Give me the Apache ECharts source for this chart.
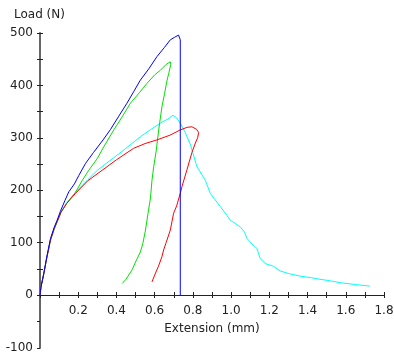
<!DOCTYPE html>
<html style="height: 100%">
<head>
    <meta charset="utf-8">
</head>
<body style="height: 100%; margin: 0">
<div id="container" style="width: 394px; height: 359px"></div>
<script type="text/javascript" src="https://cdn.jsdelivr.net/npm/echarts@6/dist/echarts.min.js"></script>
<script type="text/javascript">
    // extension (mm), load (N)
    var blueData = [[0,0],[0.005,15],[0.02,41],[0.035,72],[0.055,108],[0.075,130],[0.09,143],[0.107,160],
        [0.13,180],[0.151,197],[0.18,212],[0.203,228],[0.238,251],[0.28,272],[0.33,296],[0.369,316],
        [0.41,340],[0.455,366],[0.49,388],[0.525,410],[0.57,432],[0.612,455],[0.65,472],[0.682,487],
        [0.705,492],[0.725,496],[0.734,487],[0.734,0]];
    var greenData = [[0,0],[0.005,15],[0.02,41],[0.035,70],[0.055,105],[0.075,127],[0.09,140],[0.11,158],
        [0.14,175],[0.186,196],[0.22,218],[0.255,238],[0.299,260],[0.334,283],[0.386,315],[0.43,340],
        [0.473,366],[0.52,386],[0.56,404],[0.6,420],[0.63,429],[0.66,440],[0.682,445],[0.684,440],
        [0.675,425],[0.665,410],[0.652,385],[0.638,359],[0.621,315],[0.608,275],[0.595,245],[0.586,219],
        [0.578,185],[0.565,155],[0.551,122],[0.538,98],[0.525,82],[0.5,63],[0.482,48],[0.45,30],[0.43,22]];
    var redData = [[0,0],[0.005,15],[0.02,41],[0.035,70],[0.055,105],[0.075,127],[0.09,140],[0.11,158],
        [0.14,175],[0.186,194],[0.25,218],[0.325,238],[0.4,258],[0.49,280],[0.55,289],[0.612,296],
        [0.68,305],[0.734,315],[0.77,320],[0.795,321],[0.82,316],[0.83,310],[0.825,300],[0.813,290],
        [0.795,272],[0.769,239],[0.743,207],[0.734,194],[0.715,170],[0.699,156],[0.682,124],[0.66,100],
        [0.647,86],[0.638,73],[0.62,55],[0.6,38],[0.586,25]];
    var cyanData = [[0,0],[0.005,15],[0.02,41],[0.035,70],[0.055,105],[0.075,127],[0.09,140],[0.11,158],
        [0.14,176],[0.186,196],[0.25,220],[0.3,238],[0.386,262],[0.45,280],[0.525,302],[0.58,316],
        [0.63,328],[0.67,336],[0.696,343],[0.715,338],[0.734,328],[0.76,310],[0.786,288],[0.821,245],
        [0.865,219],[0.891,194],[0.943,169],[0.978,152],[0.995,143],[1.048,130],[1.07,120],[1.083,108],
        [1.11,97],[1.135,89],[1.152,70],[1.178,60],[1.221,55],[1.256,46],[1.3,41],[1.361,36],[1.42,33],
        [1.465,30],[1.52,27],[1.57,23.5],[1.65,20],[1.726,17]];

    var dom = document.getElementById("container");
    var myChart = echarts.init(dom);
    var font = 'DejaVu Sans';
    var ink = '#222';
    function tickStyle(inside) {
        return {inside: inside, length: 3, lineStyle: {color: ink}};
    }
    var option = {
        animation: false,
        backgroundColor: '#fff',
        textStyle: {fontFamily: font},
        // upper grid: 0..500, lower grid: the -100..0 stub of the load axis
        grid: [
            {left: 40, right: 10, top: 33, bottom: 64, outerBoundsMode: 'none'},
            {left: 40, right: 10, top: 295, bottom: 11, outerBoundsMode: 'none'}
        ],
        xAxis: [{
            gridIndex: 0, type: 'value', min: 0, max: 1.8, interval: 0.2,
            name: 'Extension (mm)', nameLocation: 'middle', nameGap: 28,
            nameTextStyle: {color: ink, fontSize: 12, fontFamily: font},
            axisLine: {onZero: false, lineStyle: {color: ink, width: 1}},
            axisTick: tickStyle(false),
            minorTick: {show: true, splitNumber: 2, length: 3, lineStyle: {color: ink}},
            axisLabel: {color: ink, fontSize: 12, margin: 10, showMaxLabel: true,
                formatter: function (v) { return v === 0 ? '' : v.toFixed(1); }},
            splitLine: {show: false}
        }, {
            gridIndex: 0, type: 'value', min: 0, max: 1.8, interval: 0.2, position: 'bottom',
            axisLine: {show: false, onZero: false},
            axisTick: tickStyle(true),
            minorTick: {show: true, splitNumber: 2, length: 3, lineStyle: {color: ink}},
            axisLabel: {show: false},
            splitLine: {show: false}
        }, {
            gridIndex: 1, type: 'value', min: 0, max: 1.8, show: false
        }],
        yAxis: [{
            gridIndex: 0, type: 'value', min: 0, max: 500, interval: 100,
            name: 'Load (N)', nameLocation: 'end', nameGap: 12,
            nameTextStyle: {color: ink, fontSize: 12, fontFamily: font, align: 'left', padding: [0, 0, 0, -26]},
            axisLine: {onZero: false, lineStyle: {color: '#666', width: 2}},
            axisTick: tickStyle(false),
            minorTick: {show: true, splitNumber: 2, length: 3, lineStyle: {color: ink}},
            axisLabel: {color: ink, fontSize: 12, margin: 7},
            splitLine: {show: false}
        }, {
            gridIndex: 0, type: 'value', min: 0, max: 500, interval: 100, position: 'left',
            axisLine: {show: false, onZero: false},
            axisTick: tickStyle(true),
            minorTick: {show: true, splitNumber: 2, length: 3, lineStyle: {color: ink}},
            axisLabel: {show: false},
            splitLine: {show: false}
        }, {
            gridIndex: 1, type: 'value', min: -100, max: 0, interval: 100,
            axisLine: {onZero: false, lineStyle: {color: '#666', width: 2}},
            axisTick: {inside: false, length: 3, lineStyle: {color: ink},
                interval: function (i, v) { return v !== 0; }},
            minorTick: {show: true, splitNumber: 2, length: 3, lineStyle: {color: ink}},
            axisLabel: {color: ink, fontSize: 12, margin: 7,
                formatter: function (v) { return v === 0 ? '' : String(v); }},
            splitLine: {show: false}
        }],
        series: [
            {type: 'line', data: cyanData, showSymbol: false, symbol: 'none',
                lineStyle: {color: '#00ffff', width: 1}},
            {type: 'line', data: greenData, showSymbol: false, symbol: 'none',
                lineStyle: {color: '#00e000', width: 1}},
            {type: 'line', data: redData, showSymbol: false, symbol: 'none',
                lineStyle: {color: '#ff0000', width: 1}},
            {type: 'line', data: blueData, showSymbol: false, symbol: 'none',
                lineStyle: {color: '#0000ff', width: 1}}
        ]
    };
    myChart.setOption(option);
</script>
</body>
</html>
